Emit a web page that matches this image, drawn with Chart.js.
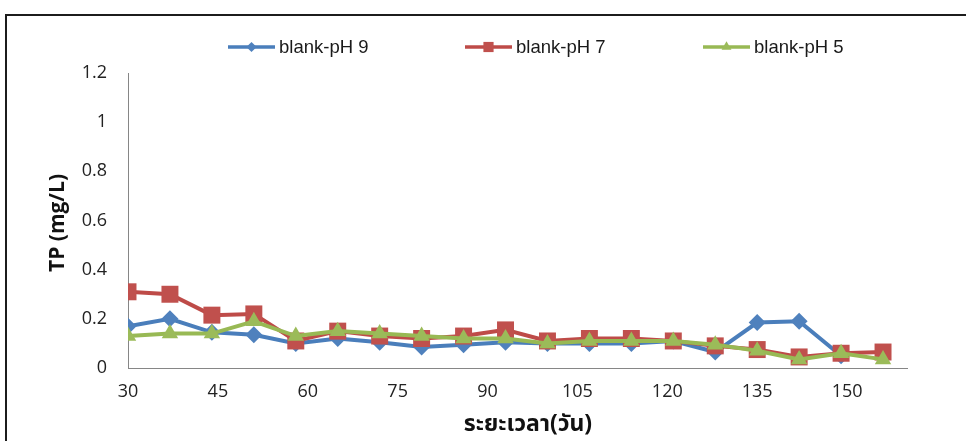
<!DOCTYPE html>
<html>
<head>
<meta charset="utf-8">
<script src="https://cdn.jsdelivr.net/npm/chart.js@4/dist/chart.umd.min.js"></script>
<style>
  html, body { margin: 0; padding: 0; background: #fff; }
  #wrap { width: 966px; height: 441px; }
</style>
</head>
<body>
<div id="wrap"><canvas id="c" width="966" height="441"></canvas></div>
<script>
// Sampling days and total phosphorus (mg/L) for each blank series
const days = [30, 37, 44, 51, 58, 65, 72, 79, 86, 93, 100, 107, 114, 121, 128, 135, 142, 149, 156];
const blankPH9 = [0.17, 0.20, 0.145, 0.135, 0.10, 0.12, 0.105, 0.085, 0.095, 0.105, 0.10, 0.10, 0.10, 0.11, 0.065, 0.185, 0.19, 0.05, null];
const blankPH7 = [0.31, 0.30, 0.215, 0.22, 0.11, 0.15, 0.13, 0.12, 0.13, 0.155, 0.11, 0.12, 0.12, 0.11, 0.09, 0.075, 0.045, 0.06, 0.065];
const blankPH5 = [0.13, 0.14, 0.14, 0.19, 0.13, 0.15, 0.14, 0.13, 0.12, 0.12, 0.10, 0.11, 0.11, 0.11, 0.095, 0.07, 0.035, 0.06, 0.035];

const seriesNames = ['blank-pH 9', 'blank-pH 7', 'blank-pH 5'];
const xTicks = [30, 45, 60, 75, 90, 105, 120, 135, 150];
const yTicks = [0, 0.2, 0.4, 0.6, 0.8, 1, 1.2];
const yTickLabels = ['0', '0.2', '0.4', '0.6', '0.8', '1', '1.2'];
const xTitle = 'ระยะเวลา(วัน)';
const yTitle = 'TP (mg/L)';

const toPoints = vals => days.map((d, i) => ({ x: d, y: vals[i] })).filter(p => p.y !== null);

// White background and the dark frame along the top and left edges
const framePlugin = {
  id: 'frame',
  beforeDraw(chart) {
    const { ctx, width, height } = chart;
    ctx.save();
    ctx.fillStyle = '#ffffff';
    ctx.fillRect(0, 0, width, height);
    ctx.fillStyle = '#1c1c1c';
    ctx.fillRect(5, 14, width - 5, 2);
    ctx.fillRect(5, 14, 2, height - 14);
    ctx.restore();
  }
};

function drawMarker(ctx, style, x, y, r) {
  ctx.beginPath();
  if (style === 'rectRot') {
    ctx.moveTo(x, y - r); ctx.lineTo(x + r, y); ctx.lineTo(x, y + r); ctx.lineTo(x - r, y);
  } else if (style === 'rect') {
    const s = r * Math.SQRT1_2;
    ctx.rect(x - s, y - s, 2 * s, 2 * s);
  } else {
    const h = Math.sqrt(3) / 2 * r;
    ctx.moveTo(x, y - r); ctx.lineTo(x + h, y + r / 2); ctx.lineTo(x - h, y + r / 2);
  }
  ctx.closePath();
  ctx.fill();
}

// Legend row: a line sample with its marker, then the series name
const lineLegendPlugin = {
  id: 'lineLegend',
  afterDraw(chart, args, opts) {
    const { ctx } = chart;
    ctx.save();
    chart.data.datasets.forEach((ds, i) => {
      const x0 = opts.starts[i];
      const y = opts.y;
      ctx.strokeStyle = ds.borderColor;
      ctx.lineWidth = opts.lineWidth;
      ctx.beginPath();
      ctx.moveTo(x0, y);
      ctx.lineTo(x0 + opts.lineLength, y);
      ctx.stroke();
      ctx.fillStyle = ds.pointBackgroundColor;
      drawMarker(ctx, ds.pointStyle, x0 + opts.lineLength / 2, y, ds.pointRadius * opts.markerScale);
      ctx.fillStyle = opts.color;
      ctx.font = opts.font;
      ctx.textBaseline = 'middle';
      ctx.textAlign = 'left';
      ctx.fillText(ds.label, x0 + opts.lineLength + opts.gap, y + 1);
    });
    ctx.restore();
  }
};

// Axis titles placed at fixed spots beside the plot area
const axisTitlePlugin = {
  id: 'axisTitles',
  afterDraw(chart, args, opts) {
    const { ctx } = chart;
    ctx.save();
    ctx.fillStyle = opts.color;
    ctx.textAlign = 'center';
    ctx.textBaseline = 'middle';
    ctx.font = opts.yFont;
    ctx.translate(opts.yPos[0], opts.yPos[1]);
    ctx.rotate(-Math.PI / 2);
    ctx.fillText(yTitle, 0, 0);
    ctx.setTransform(1, 0, 0, 1, 0, 0);
    ctx.font = opts.xFont;
    ctx.fillText(xTitle, opts.xPos[0], opts.xPos[1]);
    ctx.restore();
  }
};

const colors = {
  ph9: { line: '#4A7EBB', mark: '#4F81BD' },
  ph7: { line: '#BE4B48', mark: '#C0504D' },
  ph5: { line: '#98B954', mark: '#9BBB59' }
};

const tickFont = { family: "'Open Sans', sans-serif", size: 18 };

new Chart(document.getElementById('c'), {
  type: 'line',
  data: {
    datasets: [
      {
        label: seriesNames[0], data: toPoints(blankPH9), order: 3,
        borderColor: colors.ph9.line, borderWidth: 4,
        pointStyle: 'rectRot', pointRadius: 8.5,
        pointBackgroundColor: colors.ph9.mark, pointBorderColor: colors.ph9.mark, pointBorderWidth: 0
      },
      {
        label: seriesNames[1], data: toPoints(blankPH7), order: 2,
        borderColor: colors.ph7.line, borderWidth: 4,
        pointStyle: 'rect', pointRadius: 12,
        pointBackgroundColor: colors.ph7.mark, pointBorderColor: colors.ph7.mark, pointBorderWidth: 0
      },
      {
        label: seriesNames[2], data: toPoints(blankPH5), order: 1,
        borderColor: colors.ph5.line, borderWidth: 4,
        pointStyle: 'triangle', pointRadius: 9.5,
        pointBackgroundColor: colors.ph5.mark, pointBorderColor: colors.ph5.mark, pointBorderWidth: 0
      }
    ]
  },
  options: {
    responsive: false,
    devicePixelRatio: 1,
    animation: false,
    layout: { padding: { left: 10, top: 73, right: 59, bottom: 0 } },
    elements: { line: { tension: 0 } },
    plugins: {
      legend: { display: false },
      tooltip: { enabled: false },
      lineLegend: {
        starts: [228, 465, 703], y: 47, lineLength: 47, gap: 4, lineWidth: 3.5, markerScale: 0.6,
        font: "18.5px 'Liberation Sans', sans-serif", color: '#1a1a1a'
      },
      axisTitles: {
        color: '#111',
        yFont: "bold 21px 'Open Sans', sans-serif", yPos: [58, 223],
        xFont: "bold 23px 'Noto Sans Thai', 'Open Sans', sans-serif", xPos: [528, 426]
      }
    },
    scales: {
      x: {
        type: 'linear', min: 30, max: 160,
        afterBuildTicks: axis => { axis.ticks = xTicks.map(v => ({ value: v })); },
        afterFit: scale => { scale.height = 73; },
        grid: { display: false, drawTicks: false },
        border: { display: true, color: '#868686', width: 1 },
        ticks: { padding: 13, color: '#222', font: tickFont, maxRotation: 0, autoSkip: false }
      },
      y: {
        min: 0, max: 1.2,
        afterBuildTicks: axis => { axis.ticks = yTicks.map(v => ({ value: v })); },
        afterFit: scale => { scale.width = 118; },
        grid: { display: false, drawTicks: false },
        border: { display: true, color: '#868686', width: 1 },
        ticks: { padding: 21, color: '#222', font: tickFont, callback: (v, i) => yTickLabels[i] }
      }
    }
  },
  plugins: [framePlugin, lineLegendPlugin, axisTitlePlugin]
});
</script>
</body>
</html>
